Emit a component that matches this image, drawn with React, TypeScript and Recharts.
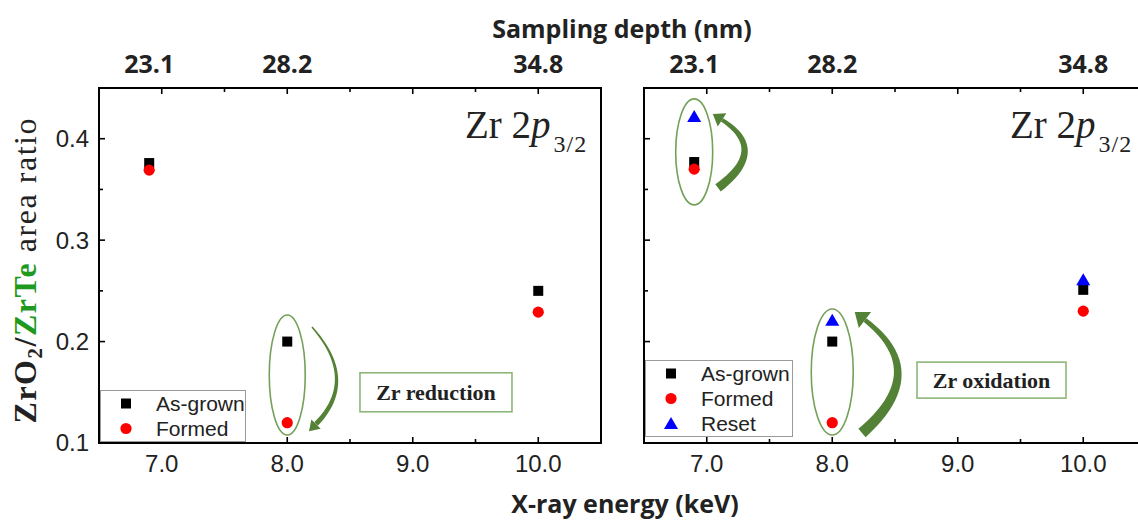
import React from "react";
import {
  ScatterChart,
  Scatter,
  XAxis,
  YAxis,
  ReferenceArea,
  ReferenceDot,
  Legend,
} from "recharts";

// ---------- data ----------
const ENERGY_KEV = [6.9, 8.0, 10.0];
const DEPTH_NM = ["23.1", "28.2", "34.8"];
const ENERGY_TICKS = [7, 7.5, 8, 8.5, 9, 9.5, 10];
const RATIO_TICKS = [0.1, 0.15, 0.2, 0.25, 0.3, 0.35, 0.4];

const LEFT_AS_GROWN = [0.376, 0.2, 0.25];
const LEFT_FORMED = [0.369, 0.12, 0.229];

const RIGHT_AS_GROWN = [0.377, 0.2, 0.251];
const RIGHT_FORMED = [0.37, 0.12, 0.23];
const RIGHT_RESET = [0.422, 0.221, 0.261];

const toPoints = (ys: number[]) => ENERGY_KEV.map((x, i) => ({ x, y: ys[i] }));
const TOP_TICKS = Array.from(new Set([...ENERGY_KEV, ...ENERGY_TICKS])).sort((a, b) => a - b);

// ---------- styles ----------
const SANS = "'Liberation Sans', Arial, sans-serif";
const BOLD_SANS = "'Open Sans', 'Noto Sans', sans-serif";
const SERIF = "'Liberation Serif', 'Times New Roman', serif";
const TEXT = "#222";
const GREEN_OUTLINE = "#74a058";
const GREEN_ARROW = "#538135";
const GREEN_BOX = "#8db77a";
const ZRTE_GREEN = "#1e9a1e";

const MAJOR = 6;
const MINOR = 4;
const isInt = (v: number) => Math.abs(v - Math.round(v)) < 1e-6;
const isTenth = (v: number) => Math.abs(v * 10 - Math.round(v * 10)) < 1e-6;

// ---------- markers ----------
const SquareMark = (p: any) => (
  <rect x={p.cx - 5} y={p.cy - 5} width={10} height={10} fill="#000" />
);
const CircleMark = (p: any) => <circle cx={p.cx} cy={p.cy} r={5.6} fill="#ff0000" />;
const TriangleMark = (p: any) => (
  <polygon
    points={`${p.cx},${p.cy - 6.5} ${p.cx + 7},${p.cy + 5.5} ${p.cx - 7},${p.cy + 5.5}`}
    fill="#0000ff"
  />
);
const MARKERS: Record<string, any> = {
  "As-grown": SquareMark,
  Formed: CircleMark,
  Reset: TriangleMark,
};

// ---------- ticks ----------
const BOTTOM_MARGIN = 21;
const bottomTick = (p: any) => {
  const { x, y, payload } = p;
  const v = payload.value as number;
  const ay = y - BOTTOM_MARGIN;
  return (
    <g>
      <line x1={x} x2={x} y1={ay} y2={ay - (isInt(v) ? MAJOR : MINOR)} stroke="#000" strokeWidth={1.6} />
      {isInt(v) && (
        <text x={x} y={y} dy="0.35em" textAnchor="middle" fontFamily={SANS} fontSize={24} fill={TEXT}>
          {v.toFixed(1)}
        </text>
      )}
    </g>
  );
};

const TOP_MARGIN = 15;
const topTick = (p: any) => {
  const { x, y, payload } = p;
  const v = payload.value as number;
  const ay = y + TOP_MARGIN;
  const li = ENERGY_KEV.findIndex((e) => Math.abs(e - v) < 1e-6);
  const hasMark = ENERGY_TICKS.some((e) => Math.abs(e - v) < 1e-6);
  return (
    <g>
      {hasMark && (
        <line x1={x} x2={x} y1={ay} y2={ay + (isInt(v) ? MAJOR : MINOR)} stroke="#000" strokeWidth={1.6} />
      )}
      {li >= 0 && (
        <text x={x} y={y} textAnchor="middle" fontFamily={BOLD_SANS} fontWeight={700} fontSize={25} fill={TEXT}>
          {DEPTH_NM[li]}
        </text>
      )}
    </g>
  );
};

const LEFT_MARGIN = 10;
const makeLeftTick = (labels: boolean) => (p: any) => {
  const { x, y, payload } = p;
  const v = payload.value as number;
  const ax = x + LEFT_MARGIN;
  return (
    <g>
      <line x1={ax} x2={ax + (isTenth(v) ? MAJOR : MINOR)} y1={y} y2={y} stroke="#000" strokeWidth={1.6} />
      {labels && isTenth(v) && (
        <text x={x} y={y} dy="0.35em" textAnchor="end" fontFamily={SANS} fontSize={24} fill={TEXT}>
          {v.toFixed(1)}
        </text>
      )}
    </g>
  );
};

// ---------- annotations ----------
const ellipseShape = (rx: number, ry: number) => (p: any) => (
  <ellipse cx={p.cx} cy={p.cy} rx={rx} ry={ry} fill="none" stroke={GREEN_OUTLINE} strokeWidth={1.6} />
);

// tapered curved arrow: quadratic curve from tail to head, width varies linearly
const arrowShape = (
  tail: [number, number],
  head: [number, number],
  ctrl: [number, number],
  wTail: number,
  wHead: number,
  headHalf: number,
  headLen: number
) => (p: any) => {
  const { cx, cy } = p;
  const T = [cx + tail[0], cy + tail[1]];
  const H = [cx + head[0], cy + head[1]];
  const C = [cx + ctrl[0], cy + ctrl[1]];
  const N = 24;
  const left: string[] = [];
  const right: string[] = [];
  for (let i = 0; i <= N; i++) {
    const t = i / N;
    const a = (1 - t) * (1 - t);
    const b = 2 * (1 - t) * t;
    const c = t * t;
    const px = a * T[0] + b * C[0] + c * H[0];
    const py = a * T[1] + b * C[1] + c * H[1];
    let dx = 2 * (1 - t) * (C[0] - T[0]) + 2 * t * (H[0] - C[0]);
    let dy = 2 * (1 - t) * (C[1] - T[1]) + 2 * t * (H[1] - C[1]);
    const L = Math.hypot(dx, dy) || 1;
    dx /= L;
    dy /= L;
    const w = (wTail + (wHead - wTail) * t) / 2;
    left.push(`${px - dy * w},${py + dx * w}`);
    right.push(`${px + dy * w},${py - dx * w}`);
  }
  let ux = H[0] - C[0];
  let uy = H[1] - C[1];
  const L = Math.hypot(ux, uy);
  ux /= L;
  uy /= L;
  const nx = -uy;
  const ny = ux;
  const tip = [H[0] + ux * headLen, H[1] + uy * headLen];
  return (
    <g>
      <polygon points={[...left, ...right.reverse()].join(" ")} fill={GREEN_ARROW} />
      <polygon
        points={`${tip[0]},${tip[1]} ${H[0] + nx * headHalf},${H[1] + ny * headHalf} ${H[0] - nx * headHalf},${H[1] - ny * headHalf}`}
        fill={GREEN_ARROW}
      />
    </g>
  );
};

const boxShape = (label: string, w: number, h: number) => (p: any) => (
  <g>
    <rect x={p.cx - w / 2} y={p.cy - h / 2} width={w} height={h} fill="#fff" stroke={GREEN_BOX} strokeWidth={1.6} />
    <text
      x={p.cx}
      y={p.cy}
      dy="0.35em"
      textAnchor="middle"
      fontFamily={SERIF}
      fontWeight={700}
      fontSize={22}
      fill={TEXT}
    >
      {label}
    </text>
  </g>
);

const orbitalShape = (p: any) => (
  <text x={p.cx} y={p.cy} fontFamily={SERIF} fontSize={39} fill={TEXT}>
    <tspan>Zr 2</tspan>
    <tspan fontStyle="italic">p</tspan>
    <tspan fontSize={24} dx={3} dy={14} letterSpacing={1}>
      3/2
    </tspan>
  </text>
);

// ---------- legend ----------
const makeLegend = (width: number, rowH: number) => (props: any) => {
  const payload = props.payload || [];
  return (
    <div
      style={{
        width,
        border: "1px solid #9a9a9a",
        background: "#fff",
        fontFamily: SANS,
        fontSize: 21,
        color: TEXT,
        boxSizing: "content-box",
      }}
    >
      {payload.map((entry: any) => {
        const M = MARKERS[entry.value];
        return (
          <div key={entry.value} style={{ height: rowH, display: "flex", alignItems: "center" }}>
            <svg width={50} height={rowH} style={{ display: "block", flex: "none" }}>
              <M cx={25} cy={rowH / 2} />
            </svg>
            <span style={{ paddingLeft: 5, lineHeight: `${rowH}px`, whiteSpace: "nowrap" }}>{entry.value}</span>
          </div>
        );
      })}
    </div>
  );
};

// ---------- panels ----------
const CHART_H = 521;
const MARGIN_TOP = 48;
const MARGIN_BOTTOM = 38;

const commonAxes = (showYLabels: boolean, yWidth: number) => [
  <XAxis
    key="xb"
    xAxisId="b"
    type="number"
    dataKey="x"
    domain={[6.5, 10.5]}
    ticks={ENERGY_TICKS}
    interval={0}
    height={40}
    axisLine={false}
    tickLine={false}
    tickSize={0}
    tickMargin={BOTTOM_MARGIN}
    tick={bottomTick}
    allowDataOverflow
  />,
  <XAxis
    key="xt"
    xAxisId="t"
    orientation="top"
    type="number"
    dataKey="x"
    domain={[6.5, 10.5]}
    ticks={TOP_TICKS}
    interval={0}
    height={40}
    axisLine={false}
    tickLine={false}
    tickSize={0}
    tickMargin={TOP_MARGIN}
    tick={topTick}
    allowDataOverflow
  />,
  <YAxis
    key="y"
    type="number"
    dataKey="y"
    domain={[0.1, 0.45]}
    ticks={RATIO_TICKS}
    interval={0}
    width={yWidth}
    axisLine={false}
    tickLine={false}
    tickSize={0}
    tickMargin={LEFT_MARGIN}
    tick={makeLeftTick(showYLabels)}
    allowDataOverflow
  />,
];

function LeftPanel() {
  return (
    <ScatterChart
      width={620}
      height={CHART_H}
      margin={{ top: MARGIN_TOP, right: 19, bottom: MARGIN_BOTTOM, left: 39 }}
    >
      {commonAxes(true, 60)}
      <ReferenceArea xAxisId="b" x1={6.5} x2={10.5} y1={0.1} y2={0.45} fill="none" stroke="#000" strokeWidth={2} />
      <ReferenceDot xAxisId="b" x={8.0} y={0.167} r={1} shape={ellipseShape(18, 60)} />
      <ReferenceDot
        xAxisId="b"
        x={8.277}
        y={0.162}
        r={1}
        shape={arrowShape([-10, -53], [-6, 44], [37, 0], 1.5, 5, 6.5, 10)}
      />
      <ReferenceDot xAxisId="b" x={9.185} y={0.15} r={1} shape={boxShape("Zr reduction", 152, 39)} />
      <ReferenceDot xAxisId="b" x={9.416} y={0.401} r={1} shape={orbitalShape} />
      <Scatter xAxisId="b" name="As-grown" data={toPoints(LEFT_AS_GROWN)} shape={SquareMark} isAnimationActive={false} />
      <Scatter xAxisId="b" name="Formed" data={toPoints(LEFT_FORMED)} shape={CircleMark} isAnimationActive={false} />
      <Legend
        layout="horizontal"
        verticalAlign="middle"
        align="center"
        content={makeLegend(144, 25)}
        wrapperStyle={{ left: 100, top: 390, width: 146, height: "auto" }}
      />
    </ScatterChart>
  );
}

function RightPanel() {
  return (
    <ScatterChart
      width={560}
      height={CHART_H}
      margin={{ top: MARGIN_TOP, right: 34, bottom: MARGIN_BOTTOM, left: 4 }}
    >
      {commonAxes(false, 20)}
      <ReferenceArea xAxisId="b" x1={6.5} x2={10.5} y1={0.1} y2={0.45} fill="none" stroke="#000" strokeWidth={2} />
      <ReferenceDot xAxisId="b" x={6.9} y={0.387} r={1} shape={ellipseShape(18.5, 53)} />
      <ReferenceDot
        xAxisId="b"
        x={7.106}
        y={0.389}
        r={1}
        shape={arrowShape([-2, 38], [2, -30], [49, 0], 9, 4, 8, 11)}
      />
      <ReferenceDot xAxisId="b" x={8.0} y={0.17} r={1} shape={ellipseShape(21, 63)} />
      <ReferenceDot
        xAxisId="b"
        x={8.237}
        y={0.17}
        r={1}
        shape={arrowShape([0, 61], [3, -52], [70, 0], 11, 4.5, 10, 13)}
      />
      <ReferenceDot xAxisId="b" x={9.269} y={0.162} r={1} shape={boxShape("Zr oxidation", 149, 36)} />
      <ReferenceDot xAxisId="b" x={9.416} y={0.401} r={1} shape={orbitalShape} />
      <Scatter xAxisId="b" name="As-grown" data={toPoints(RIGHT_AS_GROWN)} shape={SquareMark} isAnimationActive={false} />
      <Scatter xAxisId="b" name="Formed" data={toPoints(RIGHT_FORMED)} shape={CircleMark} isAnimationActive={false} />
      <Scatter xAxisId="b" name="Reset" data={toPoints(RIGHT_RESET)} shape={TriangleMark} isAnimationActive={false} />
      <Legend
        layout="horizontal"
        verticalAlign="middle"
        align="center"
        content={makeLegend(146, 25)}
        wrapperStyle={{ left: 25, top: 360, width: 148, height: "auto" }}
      />
    </ScatterChart>
  );
}

export default function App() {
  return (
    <div
      style={{
        position: "absolute",
        left: 0,
        top: 0,
        width: 1138,
        height: 521,
        overflow: "hidden",
        background: "#fff",
      }}
    >
      <div style={{ position: "absolute", left: 0, top: 0 }}>
        <LeftPanel />
      </div>
      <div style={{ position: "absolute", left: 620, top: 0 }}>
        <RightPanel />
      </div>
      <svg
        width={1138}
        height={521}
        style={{ position: "absolute", left: 0, top: 0, pointerEvents: "none" }}
      >
        <text
          x={622}
          y={38}
          textAnchor="middle"
          fontFamily={BOLD_SANS}
          fontWeight={700}
          fontSize={25}
          fill={TEXT}
        >
          Sampling depth (nm)
        </text>
        <text
          x={625}
          y={513}
          textAnchor="middle"
          fontFamily={BOLD_SANS}
          fontWeight={700}
          fontSize={25}
          fill={TEXT}
        >
          X-ray energy (keV)
        </text>
        <text
          transform="translate(36,271) rotate(-90)"
          textAnchor="middle"
          fontFamily={SERIF}
          fontSize={32}
          fill={TEXT}
          textLength={305}
          lengthAdjust="spacing"
        >
          <tspan fontWeight={700}>ZrO</tspan>
          <tspan fontWeight={700} fontSize={21} dy={6}>
            2
          </tspan>
          <tspan fontWeight={700} dy={-6}>
            /
          </tspan>
          <tspan fontWeight={700} fill={ZRTE_GREEN}>
            ZrTe
          </tspan>
          <tspan> area ratio</tspan>
        </text>
      </svg>
    </div>
  );
}
